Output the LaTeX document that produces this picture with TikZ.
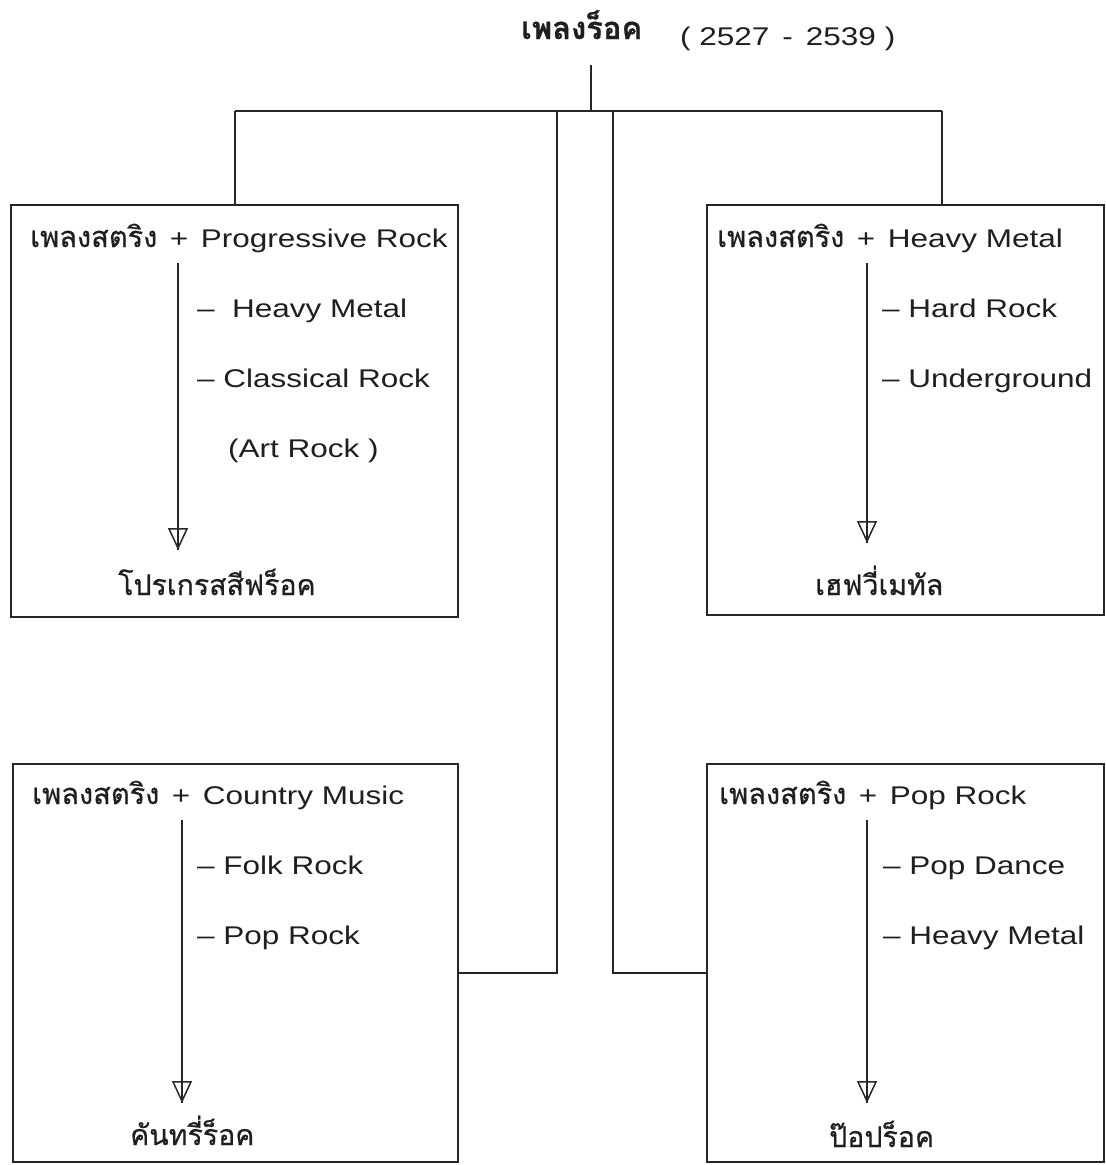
\documentclass[tikz,border=0pt]{standalone}
\usepackage{fontspec}
\setmainfont{Liberation Sans}[FakeStretch=1.23]
\newfontfamily\thai[Script=Thai, FakeBold=0.6]{Loma}
\newfontfamily\thaibold[Script=Thai]{Loma Bold}
\usetikzlibrary{arrows.meta}
\tikzset{
  ln/.style={line width=1.6pt, draw=black!85},
  box/.style={ln, rectangle, inner sep=0pt},
  lab/.style={anchor=base west, inner sep=0pt, font=\fontsize{25.6}{30}\selectfont, text=black!88},
  thl/.style={anchor=base west, inner sep=0pt, font=\thai\fontsize{28.5}{30}\selectfont, text=black!88},
  flowline/.style={line width=1.4pt, draw=black!85},
  flowtip/.style={line width=1.4pt, draw=black!85, -{Triangle[open, length=22pt, width=20pt, line width=1.5pt]}},
}
\newcommand{\thaitxt}[1]{{\thai\fontsize{29}{30}\selectfont #1}}
\newcommand{\plusgap}{\hspace{12.5pt}+\hspace{12.5pt}}
\begin{document}
\begin{tikzpicture}[x=1pt,y=-1pt]
\useasboundingbox[fill=white] (0,0) rectangle (1106,1165);

% title
\node[anchor=base west, inner sep=0pt, font=\thai\bfseries\fontsize{31}{32}\selectfont, text=black!88] (tth) at (521,39) {เพลงร็อค};
\node[lab] (tyr) at (680,45) {( 2527 \,-\, 2539 )};

% boxes
\node[box, minimum width=447pt, minimum height=412pt] (tl) at (234.5,411) {};
\node[box, minimum width=397pt, minimum height=410pt] (tr) at (905.5,410) {};
\node[box, minimum width=445pt, minimum height=398pt] (bl) at (235.5,963) {};
\node[box, minimum width=397pt, minimum height=398pt] (br) at (905.5,963) {};

% tree connectors
\coordinate (t0) at (591,65);
\coordinate (j) at (591,111);
\coordinate (hl) at (235,111);
\coordinate (hr) at (942,111);
\coordinate (c1) at (557,111);
\coordinate (c2) at (613,111);
\draw[ln] (t0) -- (j);
\draw[ln] (hl) -- (hr);
\draw[ln] (hl) -- (hl |- tl.north);
\draw[ln] (hr) -- (hr |- tr.north);
\draw[ln] (c1) |- (bl.east |- 0,973);
\draw[ln] (c2) |- (br.west |- 0,973);

% top-left box
\node[lab] (h1) at (30,247) {\thaitxt{เพลงสตริง}\plusgap Progressive Rock};
\node[lab] (a1) at (197,317) {–\ \ Heavy Metal};
\node[lab] (a2) at (197,387) {– Classical Rock};
\node[lab] (a3) at (228,457) {(Art Rock )};
\node[thl] (r1) at (118,595) {โปรเกรสสีฟร็อค};
\coordinate (s1) at (178,263);
\coordinate (e1) at (178,550);
\draw[flowline] (s1) -- (e1);
\draw[flowtip] (s1) -- (e1);

% top-right box
\node[lab] (h2) at (717,247) {\thaitxt{เพลงสตริง}\plusgap Heavy Metal};
\node[lab] (b1) at (882,317) {– Hard Rock};
\node[lab] (b2) at (882,387) {– Underground};
\node[thl] (r2) at (815,595) {เฮฟวี่เมทัล};
\coordinate (s2) at (867,263);
\coordinate (e2) at (867,543);
\draw[flowline] (s2) -- (e2);
\draw[flowtip] (s2) -- (e2);

% bottom-left box
\node[lab] (h3) at (32,804) {\thaitxt{เพลงสตริง}\plusgap Country Music};
\node[lab] (c1t) at (197,874) {– Folk Rock};
\node[lab] (c2t) at (197,944) {– Pop Rock};
\node[thl] (r3) at (130,1145) {คันทรี่ร็อค};
\coordinate (s3) at (182,820);
\coordinate (e3) at (182,1103);
\draw[flowline] (s3) -- (e3);
\draw[flowtip] (s3) -- (e3);

% bottom-right box
\node[lab] (h4) at (719,804) {\thaitxt{เพลงสตริง}\plusgap Pop Rock};
\node[lab] (d1) at (883,874) {– Pop Dance};
\node[lab] (d2) at (883,944) {– Heavy Metal};
\node[thl] (r4) at (829,1147) {ป๊อปร็อค};
\coordinate (s4) at (867,820);
\coordinate (e4) at (867,1103);
\draw[flowline] (s4) -- (e4);
\draw[flowtip] (s4) -- (e4);
\end{tikzpicture}
\end{document}
